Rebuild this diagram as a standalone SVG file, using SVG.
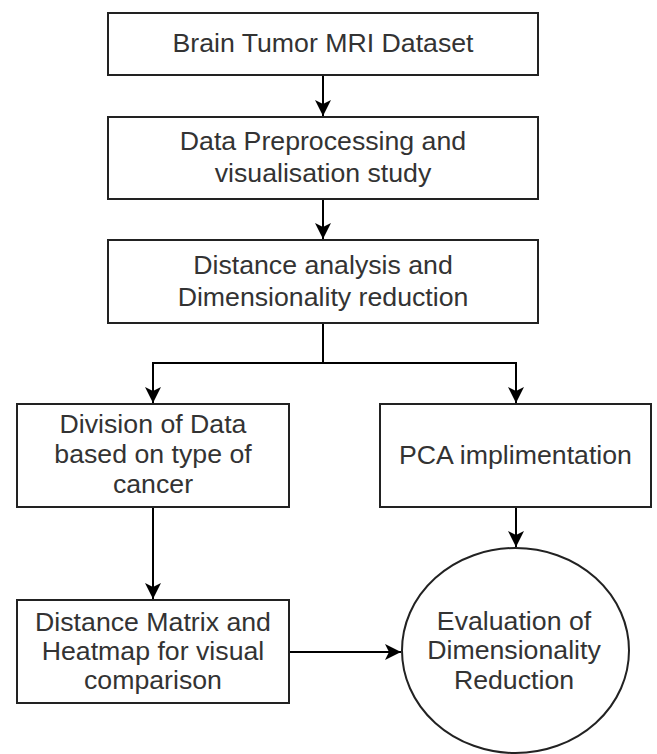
<svg xmlns="http://www.w3.org/2000/svg" width="657" height="754" viewBox="0 0 657 754">
<style>
.box{fill:#fff;stroke:#222;stroke-width:2}
.t{font-family:"Liberation Sans",Arial,sans-serif;font-size:26.7px;fill:#333;text-anchor:middle}
.c{fill:none;stroke:#000;stroke-width:2}
</style>
<defs>
<marker id="arr" markerUnits="userSpaceOnUse" viewBox="0 0 16 16" refX="16" refY="8" markerWidth="16" markerHeight="16" orient="auto">
<path d="M0,0 L16,8 L0,16 L4,8 Z" fill="#000"/>
</marker>
</defs>
<rect width="657" height="754" fill="#fff"/>
<g id="connectors">
<path class="c" d="M323,75 V116" marker-end="url(#arr)"/>
<path class="c" d="M323,199 V239" marker-end="url(#arr)"/>
<path class="c" d="M323,323 V363 H153 V403" marker-end="url(#arr)"/>
<path class="c" d="M323,363 H516 V403" marker-end="url(#arr)"/>
<path class="c" d="M153,507 V599" marker-end="url(#arr)"/>
<path class="c" d="M516,507 V547" marker-end="url(#arr)"/>
<path class="c" d="M289,652 H401" marker-end="url(#arr)"/>
</g>
<g id="n1">
<rect class="box" x="108" y="13" width="430" height="62"/>
<text class="t" x="323" y="52">Brain Tumor MRI Dataset</text>
</g>
<g id="n2">
<rect class="box" x="108" y="117" width="430" height="82"/>
<text class="t" x="323" y="150">Data Preprocessing and</text>
<text class="t" x="323" y="182">visualisation study</text>
</g>
<g id="n3">
<rect class="box" x="108" y="240" width="430" height="83"/>
<text class="t" x="323" y="274">Distance analysis and</text>
<text class="t" x="323" y="306">Dimensionality reduction</text>
</g>
<g id="n4">
<rect class="box" x="17" y="404" width="272" height="103"/>
<text class="t" x="153" y="433">Division of Data</text>
<text class="t" x="153" y="463">based on type of</text>
<text class="t" x="153" y="493">cancer</text>
</g>
<g id="n5">
<rect class="box" x="380" y="404" width="271" height="103"/>
<text class="t" x="515.5" y="464">PCA implimentation</text>
</g>
<g id="n6">
<rect class="box" x="17" y="600" width="272" height="103"/>
<text class="t" x="153" y="631">Distance Matrix and</text>
<text class="t" x="153" y="660">Heatmap for visual</text>
<text class="t" x="153" y="689">comparison</text>
</g>
<g id="n7">
<ellipse class="box" cx="515.5" cy="650.5" rx="113.5" ry="102.5"/>
<text class="t" x="514" y="630">Evaluation of</text>
<text class="t" x="514" y="659">Dimensionality</text>
<text class="t" x="514" y="689">Reduction</text>
</g>
</svg>
